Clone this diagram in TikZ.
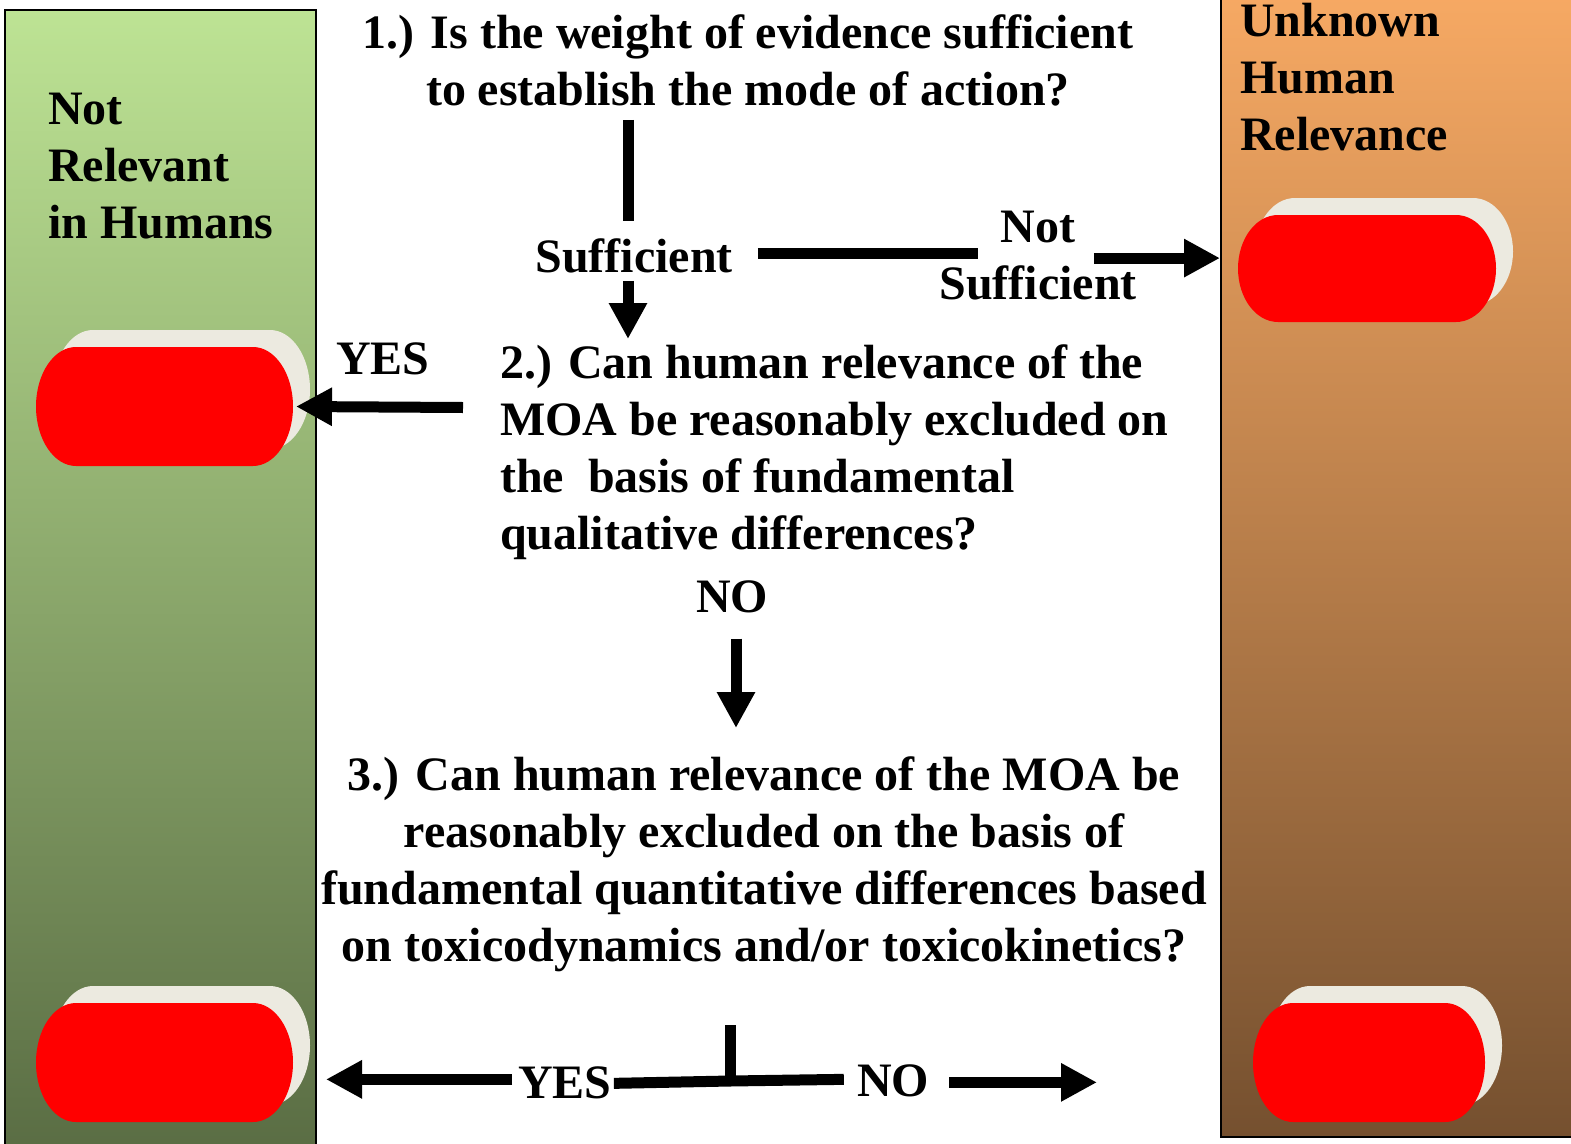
\documentclass[tikz,border=0pt]{standalone}
\usepackage{fontspec}
\setmainfont{Liberation Serif}
\usetikzlibrary{arrows.meta,calc}
\definecolor{gtop}{RGB}{189,227,148}
\definecolor{gbot}{RGB}{89,108,67}
\definecolor{otop}{RGB}{248,170,100}
\definecolor{obot}{RGB}{117,80,47}
\definecolor{shadowc}{RGB}{236,234,224}
\definecolor{pillred}{RGB}{255,0,0}
\newcommand{\mypill}[5]{%
  \pgfmathsetmacro\pa{#2+40}\pgfmathsetmacro\pb{#4-40}\pgfmathsetmacro\ph{(#5-#3)/2}%
  \begin{scope}[shift={(17,-17)}]
    \fill[shadowc] (\pa,#3) -- (\pb,#3) arc[start angle=-90,end angle=90,x radius=40,y radius=\ph] -- (\pa,#5) arc[start angle=90,end angle=270,x radius=40,y radius=\ph] -- cycle;
  \end{scope}
  \fill[pillred] (\pa,#3) -- (\pb,#3) arc[start angle=-90,end angle=90,x radius=40,y radius=\ph] -- (\pa,#5) arc[start angle=90,end angle=270,x radius=40,y radius=\ph] -- cycle;
  \path (#2,#3) coordinate (#1-nw) (#4,#5) coordinate (#1-se);
  \node[inner sep=0] (#1) at ($(#1-nw)!0.5!(#1-se)$) {};
  \path (#4,{(#3+#5)/2}) coordinate (#1-e) (#2,{(#3+#5)/2}) coordinate (#1-w);
}
\begin{document}
\begin{tikzpicture}[x=1pt,y=-1pt,
  txt/.style={inner sep=0pt, font=\bfseries\fontsize{48}{57}\selectfont},
  bar/.style={line width=11pt},
  arr/.style={line width=11pt, -{Triangle[width=36pt,length=36pt]}},
  col/.style={draw=black, line width=2pt, inner sep=0pt}]
\useasboundingbox (0,0) rectangle (1571,1143);
% columns
\node[col, top color=gtop, bottom color=gbot, minimum width=311pt, minimum height=1150pt] (lcol) at (160.5,585) {};
\node[col, top color=otop, bottom color=obot, minimum width=379pt, minimum height=1157pt] (rcol) at (1410.5,558.5) {};
% pills
\mypill{lp1}{36}{347}{293}{466}
\mypill{lp2}{36}{1003}{293}{1122}
\mypill{rp1}{1238}{215}{1496}{322}
\mypill{rp2}{1253}{1003}{1485}{1122}
% texts (base anchor = baseline of last line)
\node[txt, align=left, anchor=base west] (nrel) at (48,238) {Not\\Relevant\\in Humans};
\node[txt, align=left, anchor=base west] (unk) at (1240,150) {Unknown\\Human\\Relevance};
\node[txt, align=center, anchor=base] (q1) at (748,105) {1.) Is the weight of evidence sufficient\\to establish the mode of action?};
\node[txt, anchor=base] (suff) at (634,272) {Sufficient};
\node[txt, align=center, anchor=base] (ns) at (1038,299) {Not\\Sufficient};
\node[txt, anchor=base] (yes) at (383,374) {YES};
\node[txt, align=left, anchor=base west] (q2) at (500,549) {2.) Can human relevance of the\\MOA be reasonably excluded on\\the~~basis of fundamental\\qualitative differences?};
\node[txt, anchor=base] (no) at (732,612) {NO};
\node[txt, align=center, anchor=base] (q3) at (764,961) {3.) Can human relevance of the MOA be\\reasonably excluded on the basis of\\fundamental quantitative differences based\\on toxicodynamics and/or toxicokinetics?};
\node[txt, anchor=base] (byes) at (565,1098) {YES};
\node[txt, anchor=base] (bno) at (893,1096) {NO};
% connectors
\draw[bar] ($(suff.north |- q1.south)+(-6,14)$) -- ($(suff.north)+(-6,-17)$);
\draw[arr] ($(suff.south)+(-6,8)$) -- ($(q2.north -| suff.south)+(-6,-5)$);
\draw[bar] ($(suff.east)+(25,-2)$) -- ($(suff.east -| ns.west)+(39,-2)$);
\coordinate (nsa) at ($(ns.east)+(-43,3)$);
\draw[arr] (nsa) -- (nsa -| rcol.west);
\draw[arr] ($(q2.west |- lp1-e)+(-37,1)$) -- ($(lp1-e)+(3,0)$);
\draw[arr] ($(no.south)+(4,26)$) -- ($(no.south |- q3.north)+(4,-28)$);
\coordinate (j) at (730,1081);
\draw[bar] ($(j)+(0,-56)$) -- (j);
\draw[bar] ($(byes.east)+(2,1)$) -- (j) -- ($(bno.west)+(-13,-1)$);
\draw[arr] ($(byes.west)+(-6,-3)$) -- ($(byes.west -| lp2-e)+(33,-3)$);
\draw[arr] ($(bno.east)+(20,2)$) -- ($(bno.east -| rp2-w)+(-156,2)$);
\end{tikzpicture}
\end{document}
